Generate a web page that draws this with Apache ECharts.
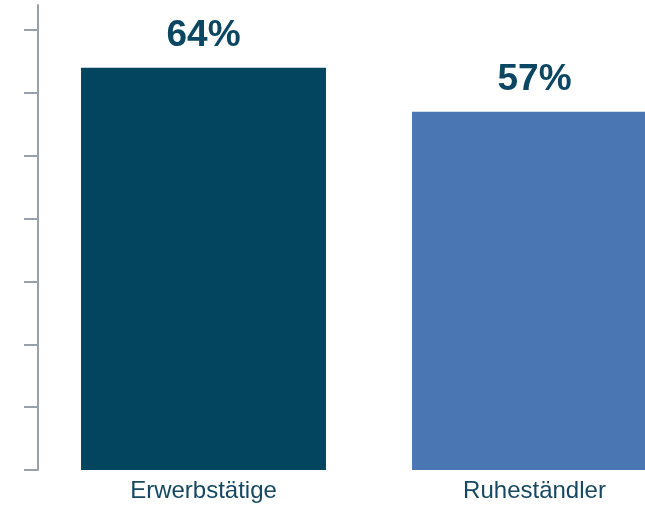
<!DOCTYPE html>
<html>
<head>
<meta charset="utf-8">
<script src="https://cdn.jsdelivr.net/npm/echarts@6/dist/echarts.min.js"></script>
<style>
  html, body { margin: 0; padding: 0; background: #fff; }
  #chart { width: 645px; height: 506px; }
</style>
</head>
<body>
<div id="chart"></div>
<script>
const categories = ['Erwerbstätige', 'Ruheständler'];
const values = [64, 57];
const barColors = ['#03445f', '#4a77b4'];
const tickValues = [0, 10, 20, 30, 40, 50, 60, 70];

const chart = echarts.init(document.getElementById('chart'));
chart.setOption({
  animation: false,
  grid: {
    left: 38,
    top: 5,
    bottom: 36,
    right: -55,
    outerBoundsMode: 'none',
    containLabel: false
  },
  xAxis: {
    type: 'category',
    data: categories,
    axisLine: { show: false },
    axisTick: { show: false },
    axisLabel: {
      margin: 9,
      fontFamily: 'Liberation Sans, Arial, sans-serif',
      fontSize: 24,
      color: '#164862'
    }
  },
  yAxis: {
    type: 'value',
    min: 0,
    max: 74,
    interval: 10,
    splitLine: { show: false },
    axisLabel: { show: false },
    axisLine: {
      show: true,
      lineStyle: { color: '#97a1ac', width: 2 }
    },
    axisTick: {
      show: true,
      length: 14,
      customValues: tickValues,
      lineStyle: { color: '#97a1ac', width: 2 }
    }
  },
  series: [
    {
      type: 'bar',
      barWidth: '74%',
      data: values.map((v, i) => ({ value: v, itemStyle: { color: barColors[i] } })),
      label: {
        show: true,
        position: 'top',
        distance: 14,
        formatter: '{c}%',
        fontFamily: 'Liberation Sans, Arial, sans-serif',
        fontWeight: 'bold',
        fontSize: 37,
        color: '#0b4763'
      }
    }
  ]
});
</script>
</body>
</html>
